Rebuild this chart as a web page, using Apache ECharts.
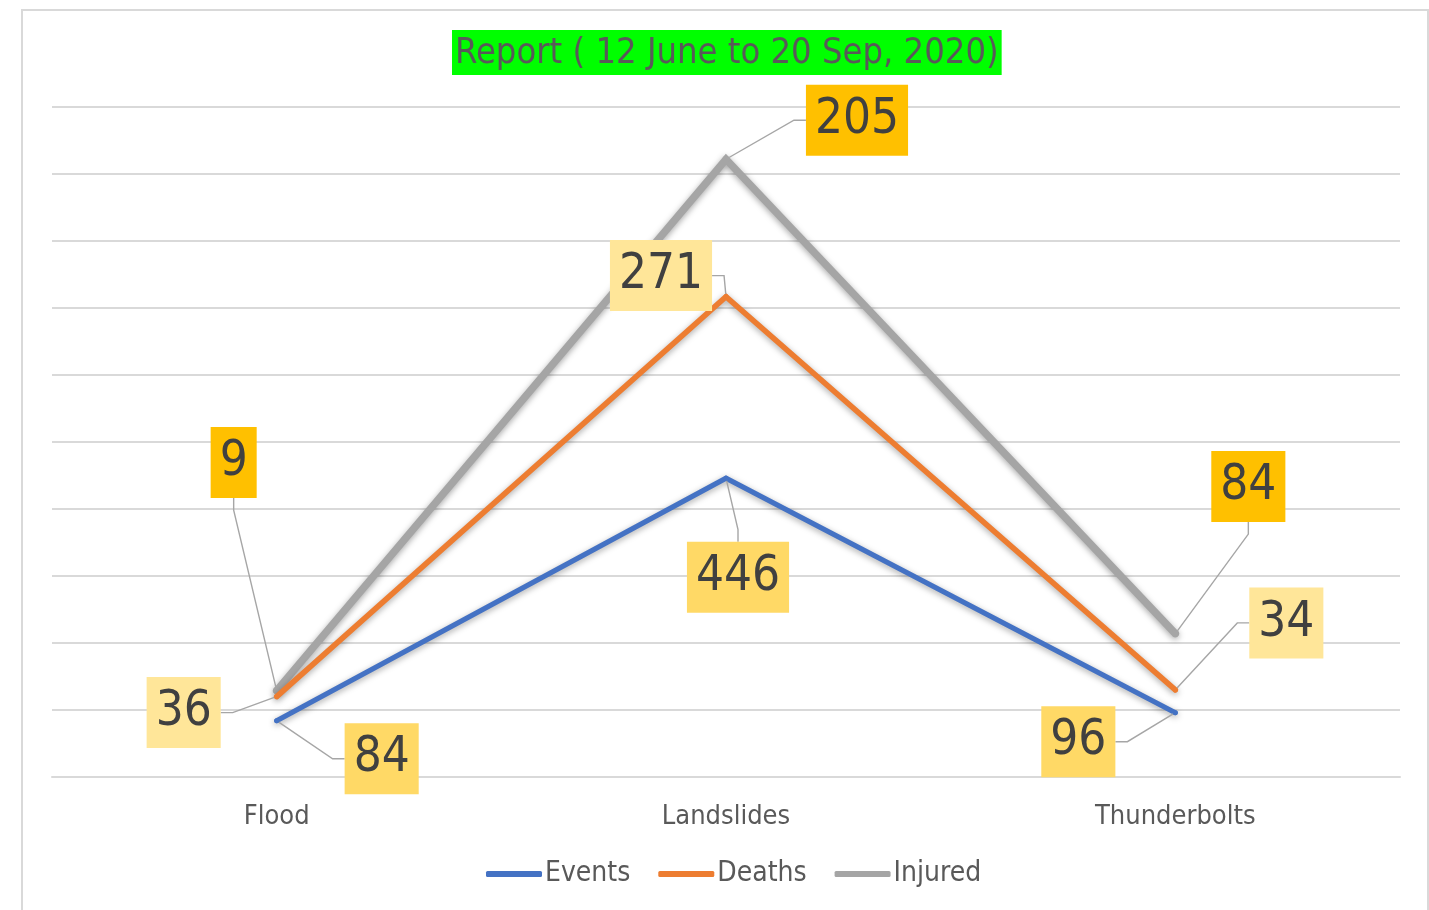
<!DOCTYPE html>
<html>
<head>
<meta charset="utf-8">
<script src="https://cdn.jsdelivr.net/npm/echarts@6/dist/echarts.min.js"></script>
<style>
html,body{margin:0;padding:0;background:#fff;}
#chart{width:1429px;height:910px;}
</style>
</head>
<body>
<div id="chart"></div>
<script>
// ---- data ----
var categories = ['Flood', 'Landslides', 'Thunderbolts'];
var events = [84, 446, 96];
var deaths = [36, 271, 34];
var injured = [9, 205, 84];
var seriesNames = ['Events', 'Deaths', 'Injured'];

// label offsets (pixels from point to label centre), per series/point
var labelOffsets = [
  [[105, 38], [12, 99], [-97, 29]],
  [[-93, 16], [-65, -21], [111, -67]],
  [[-43, -228], [131, -39], [73, -147]]
];
var lineColors = ['#4472C4', '#ED7D31', '#A5A5A5'];
var labelBg = ['#FFD966', '#FFE699', '#FFC000'];
var FONT = '"DejaVu Sans Condensed", "DejaVu Sans", sans-serif';

function makeSeries(name, data, idx) {
  return {
    name: name,
    type: 'line',
    stack: 'total',
    data: data,
    symbol: 'circle',
    symbolSize: idx === 2 ? 7 : 5,
    showSymbol: true,
    itemStyle: { color: lineColors[idx] },
    lineStyle: {
      color: lineColors[idx],
      width: idx === 2 ? 7.5 : (idx === 1 ? 5.5 : 5),
      cap: 'round',
      join: 'miter',
      shadowColor: 'rgba(0,0,0,0.35)',
      shadowBlur: 6,
      shadowOffsetY: 2
    },
    z: 3 - idx,
    label: {
      show: true,
      position: 'inside',
      fontFamily: FONT,
      fontSize: 49,
      lineHeight: 56,
      color: '#404040',
      backgroundColor: labelBg[idx],
      padding: [9, 9, 6, 9]
    },
    labelLine: {
      show: true,
      length2: 12,
      lineStyle: { color: '#A6A6A6', width: 1.4 }
    },
    labelLayout: function (p) {
      var o = labelOffsets[idx][p.dataIndex];
      return { dx: o[0], dy: o[1] };
    },
    emphasis: { disabled: true }
  };
}

var chart = echarts.init(document.getElementById('chart'), null, { renderer: 'canvas' });
chart.setOption({
  animation: false,
  backgroundColor: '#ffffff',
  textStyle: { fontFamily: FONT },
  title: {
    text: 'Report ( 12 June to 20 Sep, 2020)',
    left: 452,
    top: 30,
    padding: [2, 3, 0, 3],
    backgroundColor: '#00FF00',
    textStyle: {
      fontFamily: FONT,
      fontSize: 36,
      fontWeight: 'normal',
      color: '#595959',
      lineHeight: 43
    }
  },
  graphic: [{
    type: 'rect',
    shape: { x: 22, y: 10, width: 1406, height: 940 },
    style: { fill: null, stroke: '#D9D9D9', lineWidth: 2 },
    z: -1,
    silent: true
  }],
  legend: {
    bottom: 17,
    left: 481,
    itemWidth: 56,
    itemHeight: 6,
    itemGap: 28,
    icon: 'roundRect',
    textStyle: { fontFamily: FONT, fontSize: 28, color: '#595959', padding: [0, 0, 0, -2] },
    data: seriesNames
  },
  grid: { left: 52, right: 29, top: 107, bottom: 133, containLabel: false },
  xAxis: {
    type: 'category',
    data: categories,
    boundaryGap: true,
    axisLine: { lineStyle: { color: '#D9D9D9', width: 2 } },
    axisTick: { show: false },
    axisLabel: { fontFamily: FONT, fontSize: 27, color: '#595959', margin: 26 }
  },
  yAxis: {
    type: 'value',
    min: 0,
    max: 1000,
    interval: 100,
    axisLabel: { show: false },
    axisLine: { show: false },
    axisTick: { show: false },
    splitLine: { lineStyle: { color: '#D9D9D9', width: 2 } }
  },
  series: [
    makeSeries(seriesNames[0], events, 0),
    makeSeries(seriesNames[1], deaths, 1),
    makeSeries(seriesNames[2], injured, 2)
  ]
});
</script>
</body>
</html>
